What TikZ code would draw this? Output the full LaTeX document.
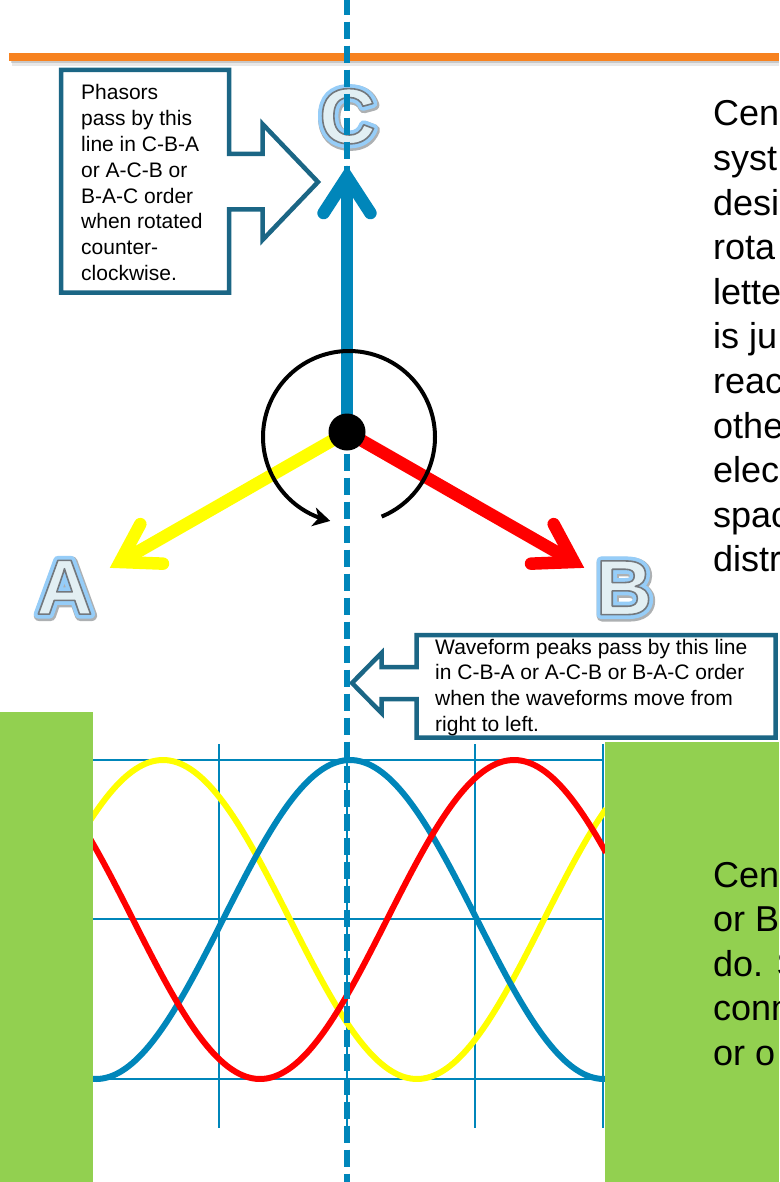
\documentclass[tikz,border=0pt]{standalone}
\usepackage{fontspec}
\setmainfont{Liberation Sans}
\usetikzlibrary{calc,arrows.meta}
\definecolor{phblue}{RGB}{0,134,186}
\definecolor{callout}{RGB}{27,102,133}
\definecolor{greenbox}{RGB}{146,208,80}
\definecolor{orangeline}{RGB}{247,130,31}
\definecolor{letterfill}{RGB}{226,239,243}
\definecolor{letteredge}{RGB}{150,205,248}
\definecolor{lettershadow}{RGB}{170,172,175}
\definecolor{phyellow}{RGB}{255,255,0}
\definecolor{phred}{RGB}{255,0,0}
% outlined phasor letter: soft grey shadow, wide light-blue stroke, pale letter with thin grey edge
\newcommand\phasorletter[1]{%
  \rlap{\kern1pt\raisebox{-1.5pt}{\textcolor{lettershadow}{\special{pdf:literal direct 1 j 11 w 0.68 0.69 0.7 RG 2 Tr}#1\special{pdf:literal direct 0 Tr}}}}%
  \rlap{\textcolor{letteredge}{\special{pdf:literal direct 1 j 9 w 0.588 0.804 0.973 RG 2 Tr}#1\special{pdf:literal direct 0 Tr}}}%
  \textcolor{letterfill}{\special{pdf:literal direct 1 j 1.6 w 0.45 0.47 0.49 RG 2 Tr}#1\special{pdf:literal direct 0 Tr}}}
\newcommand\textlines[1]{\begin{tabular}[t]{@{}l@{}}#1\end{tabular}}
\tikzset{
  wave/.style={line width=6pt, line join=round},
  gridline/.style={draw=phblue, line width=1.8pt},
  callbox/.style={draw=callout, line width=4.5pt, fill=white, line join=miter},
  calltext/.style={font=\fontsize{21}{25.8}\selectfont, anchor=base west, inner sep=0pt},
  bigtext/.style={font=\fontsize{36}{44.6}\selectfont, anchor=base west, inner sep=0pt},
  shaft/.style={line width=12.5pt},
  barb/.style={line width=12.5pt, line cap=round, line join=miter},
  letternode/.style={font=\fontsize{78}{80}\selectfont\bfseries, inner sep=0pt},
  greenrect/.style={fill=greenbox, draw=none},
  refline/.style={draw=phblue, line width=5.5pt, dash pattern=on 17.5pt off 6.5pt, dash phase=2.3pt},
}
\begin{document}
\begin{tikzpicture}[x=1pt,y=-1pt]
\useasboundingbox (0,0) rectangle (779,1182);
\clip (0,0) rectangle (779,1182);
\fill[white] (0,0) rectangle (779,1182);

% orange header line with shadow
\coordinate (oL) at (9,57.5);
\coordinate (oR) at (779,57.5);
\draw[gray, opacity=0.18, line width=9pt] ($(oL)+(3,4)$) -- ($(oR)+(0,4)$);
\draw[gray, opacity=0.3, line width=5pt] ($(oL)+(2,3.5)$) -- ($(oR)+(0,3.5)$);
\draw[orangeline, line width=8pt] (oL) -- (oR);

% grid
\foreach \gx in {219,347,475,603} \draw[gridline] (\gx,744) -- (\gx,1128);
\foreach \gy in {760,919,1079} \draw[gridline] (93,\gy) -- (603,\gy);

% waveforms
\draw[wave, phyellow] plot[domain=90:606, samples=160] (\x, {919.5-159.5*cos(0.708661*(\x-163))});
\draw[wave, phblue] plot[domain=90:606, samples=160] (\x, {919.5-159.5*cos(0.708661*(\x-350))});
\draw[wave, phred] plot[domain=90:606, samples=160] (\x, {919.5-159.5*cos(0.708661*(\x-514))});

% green panels
\fill[greenrect] (0,712) rectangle (93,1182);
\fill[greenrect] (604.5,742) rectangle (779,1182);

% callout 1
\draw[callbox] (61,70) -- (229,70) -- (229,154) -- (262.5,154) -- (262.5,124) -- (318,182)
  -- (262.5,240) -- (262.5,209.5) -- (229,209.5) -- (229,292.5) -- (61,292.5) -- cycle;
\node[calltext] (t1) at (81,100) {\textlines{Phasors\\pass by this\\line in C-B-A\\or A-C-B or\\B-A-C order\\when rotated\\counter-\\clockwise.}};

% callout 2
\draw[callbox] (416.5,635) -- (775.5,635) -- (775.5,737.5) -- (416.5,737.5) -- (416.5,699)
  -- (381.5,699) -- (381.5,713) -- (352,683) -- (381.5,653) -- (381.5,667) -- (416.5,667) -- cycle;
\node[calltext] (t2) at (435,654) {\textlines{Waveform peaks pass by this line\\in C-B-A or A-C-B or B-A-C order\\when the waveforms move from\\right to left.}};

% phasor letters
\node[letternode] (LC) at (347.5,117) {\phasorletter{C}};
\node[letternode] (LA) at (64.5,588) {\phasorletter{A}};
\node[letternode] (LB) at (624,588.5) {\phasorletter{B}};

% dashed reference line
\coordinate (dtop) at (347,0);
\coordinate (dbot) at (347,1182);
\draw[refline] (dtop) -- (dbot);

% phasors
\coordinate (O) at (347,432);
\coordinate (Cv) at (347,177);
\coordinate (Av) at (120,562);
\coordinate (Bv) at (574,562);
\draw[shaft, phblue] (O) -- (Cv);
\draw[barb, phblue] ($(Cv)!43pt!33:(O)$) -- (Cv) -- ($(Cv)!43pt!-33:(O)$);
\draw[shaft, phyellow] (O) -- (Av);
\draw[barb, phyellow] ($(Av)!43pt!32:(O)$) -- (Av) -- ($(Av)!43pt!-32:(O)$);
\draw[shaft, phred] (O) -- (Bv);
\draw[barb, phred] ($(Bv)!43pt!32:(O)$) -- (Bv) -- ($(Bv)!43pt!-32:(O)$);

% rotation arc
\draw[line width=4pt, -{Stealth[length=17pt, width=19pt, inset=5pt]}]
  plot[domain=67.7:-257.4, samples=140] ({349+86*cos(\x)}, {437+86*sin(\x)});

\node[circle, fill=black, minimum size=37pt, inner sep=0pt] (dot) at (O) {};

% right-hand text (cut by the page edge)
\node[bigtext] (rt1) at (713,126) {\textlines{Cen\\syst\\desi\\rota\\lette\\is ju\\reac\\othe\\elec\\spac\\distr}};
\node[bigtext] (rt2) at (713,887) {\textlines{Cen\\or B\\do. S\\conn\\or o}};
\end{tikzpicture}
\end{document}
